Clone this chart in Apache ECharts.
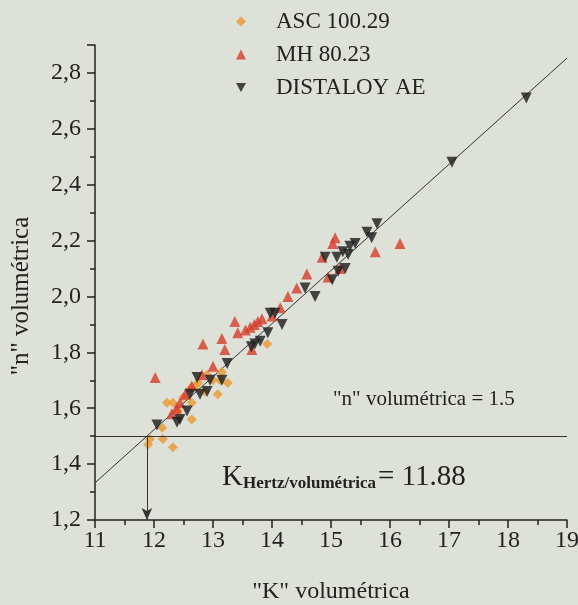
<!DOCTYPE html>
<html>
<head>
<meta charset="utf-8">
<script src="https://cdn.jsdelivr.net/npm/echarts@6/dist/echarts.min.js"></script>
<style>
  html, body { margin: 0; padding: 0; background: #dde1d8; }
  #chart { width: 578px; height: 605px; }
</style>
</head>
<body>
<div id="chart"></div>
<script>
// Series names shown in the legend
const seriesNames = ['ASC 100.29', 'MH 80.23', 'DISTALOY AE'];

// [K volumétrica, n volumétrica] pairs for each powder
const ascPoints = [
  [11.93, 1.49], [11.90, 1.47], [12.15, 1.49], [12.32, 1.46], [12.14, 1.53],
  [12.22, 1.62], [12.32, 1.62], [12.41, 1.59], [12.64, 1.56], [12.64, 1.62],
  [12.61, 1.67], [12.70, 1.68], [12.86, 1.66], [13.08, 1.65], [12.90, 1.72],
  [13.15, 1.73], [13.25, 1.69], [13.12, 1.70], [13.00, 1.70], [12.50, 1.64],
  [13.92, 1.83], [12.75, 1.69]
];
const mhPoints = [
  [12.02, 1.71], [12.30, 1.58], [12.44, 1.62], [12.53, 1.65], [12.64, 1.68],
  [12.81, 1.72], [13.00, 1.75], [12.83, 1.83], [13.15, 1.85], [13.20, 1.81],
  [13.37, 1.91], [13.42, 1.87], [13.63, 1.89], [13.76, 1.91], [13.83, 1.92],
  [14.00, 1.93], [13.66, 1.81], [14.14, 1.96], [14.27, 2.00], [14.42, 2.03],
  [14.59, 2.08], [14.85, 2.14], [14.95, 2.07], [15.15, 2.10], [15.07, 2.21],
  [15.03, 2.19], [15.75, 2.16], [16.17, 2.19], [13.55, 1.88], [13.70, 1.90],
  [12.38, 1.60]
];
const distaloyPoints = [
  [12.05, 1.54], [12.39, 1.55], [12.44, 1.56], [12.56, 1.59], [12.78, 1.65],
  [12.90, 1.66], [12.73, 1.71], [12.95, 1.70], [13.15, 1.70], [13.24, 1.76],
  [12.61, 1.65], [13.71, 1.83], [13.80, 1.84], [13.93, 1.87], [14.17, 1.90],
  [13.97, 1.94], [14.05, 1.94], [14.56, 2.03], [14.73, 2.00], [14.90, 2.14],
  [15.02, 2.06], [15.12, 2.09], [15.24, 2.10], [15.29, 2.15], [15.20, 2.16],
  [15.10, 2.14], [15.32, 2.18], [15.41, 2.19], [15.61, 2.23], [15.69, 2.21],
  [15.78, 2.26], [17.05, 2.48], [18.31, 2.71], [13.65, 1.82]
];

// Linear fit across the whole range and the Hertz reference values
const fitLine = [[11, 1.333], [19, 2.853]];
const nReference = 1.5;
const kHertz = 11.88;

// Axis ranges
const xRange = [11, 19];
const yRange = [1.2, 2.9];

const serif = '"Liberation Serif", "Times New Roman", serif';
const ink = '#222';
const downTriangle = 'path://M0,0 L10,0 L5,9 Z';

const chart = echarts.init(document.getElementById('chart'));

chart.setOption({
  backgroundColor: '#dde1d8',
  animation: false,
  grid: {
    left: 95, right: 11, top: 45, bottom: 85,
    containLabel: false,
    outerBoundsMode: 'none'
  },
  legend: {
    data: [
      { name: seriesNames[0], icon: 'diamond' },
      { name: seriesNames[1], icon: 'triangle' },
      { name: seriesNames[2], icon: downTriangle }
    ],
    orient: 'vertical',
    left: 231,
    top: 5,
    itemWidth: 10,
    itemHeight: 10,
    itemGap: 10,
    textStyle: { fontFamily: serif, fontSize: 23, color: ink, padding: [0, 0, 0, 25] }
  },
  xAxis: {
    type: 'value',
    min: xRange[0], max: xRange[1], interval: 1,
    name: '"K" volumétrica',
    nameLocation: 'middle',
    nameGap: 60,
    nameTextStyle: { fontFamily: serif, fontSize: 24, color: ink },
    axisLine: { lineStyle: { color: ink, width: 1.5 } },
    axisTick: { length: 8, lineStyle: { color: ink, width: 1.5 } },
    minorTick: { show: true, splitNumber: 2, length: 5, lineStyle: { color: ink, width: 1.5 } },
    splitLine: { show: false },
    axisLabel: { fontFamily: serif, fontSize: 24, color: ink, margin: 9 }
  },
  yAxis: {
    type: 'value',
    min: yRange[0], max: yRange[1], interval: 0.2,
    axisLine: { lineStyle: { color: ink, width: 1.5 } },
    axisTick: { length: 8, lineStyle: { color: ink, width: 1.5 } },
    minorTick: { show: true, splitNumber: 2, length: 5, lineStyle: { color: ink, width: 1.5 } },
    splitLine: { show: false },
    axisLabel: {
      fontFamily: serif, fontSize: 24, color: ink, margin: 14,
      showMaxLabel: false,
      formatter: v => v.toFixed(1).replace('.', ',')
    }
  },
  series: [
    {
      name: 'fit',
      type: 'line',
      data: fitLine,
      symbol: 'none',
      silent: true,
      lineStyle: { color: '#333', width: 1 },
      markLine: {
        silent: true,
        symbol: 'none',
        label: { show: false },
        lineStyle: { color: '#333', width: 1, type: 'solid' },
        data: [
          { yAxis: nReference },
          [
            { coord: [kHertz, nReference], symbol: 'none' },
            { coord: [kHertz, yRange[0]], symbol: 'arrow', symbolSize: [8, 12] }
          ]
        ]
      }
    },
    {
      name: seriesNames[0],
      type: 'scatter',
      data: ascPoints,
      symbol: 'diamond',
      symbolSize: 10,
      itemStyle: { color: '#eb9a30' },
      z: 3
    },
    {
      name: seriesNames[1],
      type: 'scatter',
      data: mhPoints,
      symbol: 'triangle',
      symbolSize: 11,
      itemStyle: { color: '#d63c2c' },
      z: 4
    },
    {
      name: seriesNames[2],
      type: 'scatter',
      data: distaloyPoints,
      symbol: 'triangle',
      symbolRotate: 180,
      symbolSize: 11,
      itemStyle: { color: '#1c1c1c' },
      z: 5
    }
  ],
  graphic: [
    {
      // y-axis title
      type: 'text', x: 21, y: 296, rotation: Math.PI / 2,
      style: {
        text: '"n" volumétrica', fontFamily: serif, fontSize: 25, fill: ink,
        align: 'center', verticalAlign: 'middle'
      }
    },
    {
      type: 'text', left: 333, top: 389,
      style: { text: '"n" volumétrica = 1.5', fontFamily: serif, fontSize: 21, fill: ink }
    },
    {
      type: 'text', left: 222, top: 463,
      style: { text: 'K', fontFamily: serif, fontSize: 29, fill: ink }
    },
    {
      type: 'text', left: 243, top: 475,
      style: { text: 'Hertz/volumétrica', fontFamily: serif, fontSize: 17, fontWeight: 'bold', fill: ink }
    },
    {
      type: 'text', left: 378, top: 463,
      style: { text: '= 11.88', fontFamily: serif, fontSize: 29, fill: ink }
    }
  ]
});
</script>
</body>
</html>
